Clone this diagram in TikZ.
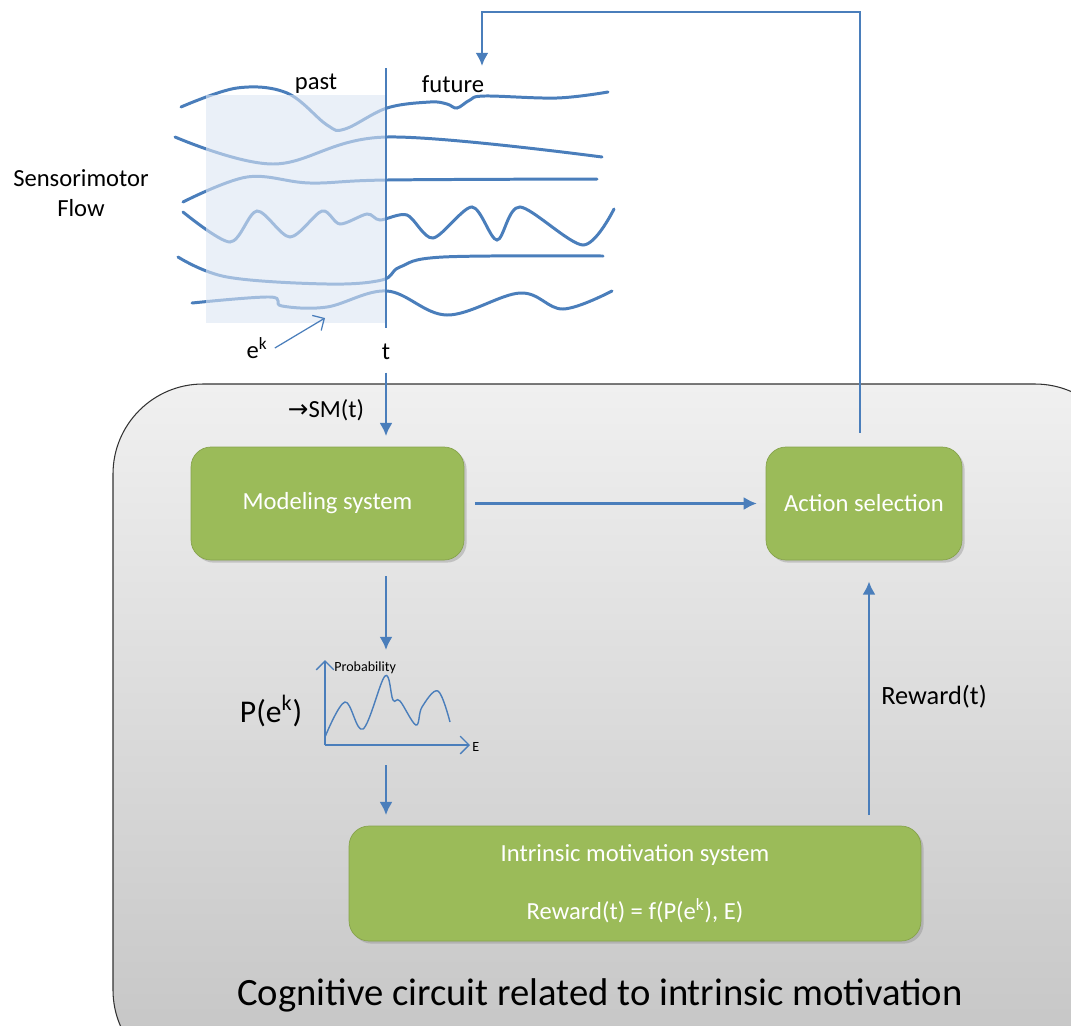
\documentclass[tikz,border=0pt]{standalone}
\usepackage{fontspec}
\setmainfont{Carlito}
\newfontfamily\arrowfont{DejaVu Sans}
\usetikzlibrary{arrows.meta,shadows}
\definecolor{flowblue}{HTML}{4A7EBB}
\definecolor{boxgreen}{HTML}{9BBB59}
\definecolor{boxedge}{HTML}{86A34C}
\definecolor{pastfill}{HTML}{DCE6F4}
\definecolor{circtop}{HTML}{F0F0F0}
\definecolor{circbot}{HTML}{C4C4C4}
\tikzset{
  sysbox/.style={draw=boxedge, fill=boxgreen, rounded corners=0.4cm, text=white,
    font=\fontsize{14}{17}\selectfont,
    drop shadow={shadow xshift=1.5pt, shadow yshift=-1.5pt, opacity=0.35}},
  flowarrow/.style={flowblue, line width=1.5pt, -{Latex[length=7.5pt,width=7.5pt]}},
  signal/.style={flowblue, line width=1.7pt, line cap=round},
  lbl/.style={font=\fontsize{14}{17}\selectfont, inner sep=0pt}
}
\begin{document}
\begin{tikzpicture}[x=0.02cm, y=-0.02cm]
  % canvas = reference pixels, y downwards
  \useasboundingbox (0,0) rectangle (1071,1025);

  % cognitive circuit background (cut by the page edge)
  \begin{scope}
    \clip (0,0) rectangle (1071,1025);
    \shadedraw[top color=circtop, bottom color=circbot, draw=black!80, line width=0.6pt,
      rounded corners=1.8cm] (113,384) rectangle (1125,1080);
  \end{scope}
  \node[font=\fontsize{22}{26}\selectfont, inner sep=0pt] (title) at (600,995)
    {Cognitive circuit related to intrinsic motivation};

  % sensorimotor flow: six signals
  \draw[signal] plot[smooth, tension=0.6] coordinates {(181,107) (237,88) (287,93) (327,125)
    (345,129) (387,108) (430,102) (447,104) (457,108) (470,100) (485,96) (557,98) (608,92)};
  \draw[signal] plot[smooth, tension=0.6] coordinates {(175,137) (273,164) (387,137) (602,157)};
  \draw[signal] plot[smooth, tension=0.6] coordinates {(183,202) (247,177) (310,183) (387,180) (597,179)};
  \draw[signal] plot[smooth, tension=0.5] coordinates {(183,212) (230,242) (257,211) (290,237)
    (322,211) (340,224) (367,214) (380,220) (407,215) (433,238) (472,207) (497,240)
    (520,207) (583,245) (614,209)};
  \draw[signal] plot[smooth, tension=0.6] coordinates {(178,257) (227,277) (327,284) (382,280)
    (400,267) (443,257) (603,256)};
  \draw[signal] plot[smooth, tension=0.6] coordinates {(192,303) (270,297) (282,306) (327,307)
    (387,291) (447,315) (520,293) (563,309) (612,291)};

  % past window, lightens the signals under it
  \fill[pastfill, opacity=0.6] (206,95) rectangle (386,323);
  \draw[flowblue, line width=0.9pt] (386,68) coordinate (ttop) -- (386,328) coordinate (tbot);

  \node[lbl] (past) at (316,84) {past};
  \node[lbl] (future) at (453,84) {future};
  \node[lbl, align=center] (smflow) at (81,193) {Sensorimotor\\Flow};
  \node[lbl] (t) at (386,352) {t};
  \node[lbl] (ek) at (257,348) {e\textsuperscript{k}};
  \coordinate (ektip) at (325,318);
  \draw[flowblue, line width=0.7pt, -{Straight Barb[length=5pt]}] ([xshift=4pt]ek.east) -- (ektip);

  % system boxes
  \node[sysbox, minimum width=5.46cm, minimum height=2.26cm] (model) at (327.5,503.5) {Modeling system};
  \node[sysbox, minimum width=3.92cm, minimum height=2.26cm] (action) at (864,503.5) {Action selection};
  \node[sysbox, minimum width=11.44cm, minimum height=2.3cm, align=center] (intrinsic) at (635,883.5)
    {Intrinsic motivation system\\[16pt]Reward(t) = f(P(e\textsuperscript{k}), E)};

  \node[lbl] (sm) at (326,410) {{\arrowfont\fontsize{14}{17}\selectfont →}SM(t)};
  \node[font=\fontsize{18}{22}\selectfont, inner sep=0pt] (pek) at (271,711) {P(e\textsuperscript{k})};
  \node[font=\fontsize{15}{18}\selectfont, inner sep=0pt] (reward) at (934,697) {Reward(t)};

  % probability plot
  \coordinate (origin) at (325,745);
  \draw[flowblue, line width=0.8pt, -{Straight Barb[length=5pt]}] (origin) -- (325,660);
  \draw[flowblue, line width=0.8pt, -{Straight Barb[length=5pt]}] (origin) -- (470,745);
  \draw[flowblue, line width=0.8pt] plot[smooth, tension=0.6] coordinates {(325,737) (345,702)
    (363,729) (385,676) (393,700) (400,701) (416,725) (422,707) (438,691) (450,722)};
  \node[font=\fontsize{8}{10}\selectfont, anchor=west, inner sep=0pt] (prob) at (334,668) {Probability};
  \node[font=\fontsize{8}{10}\selectfont, anchor=west, inner sep=0pt] (eaxis) at (472,747) {E};

  % connectors
  \draw[flowarrow, shorten <=7pt, shorten >=6pt] (t.south) -- (t.south |- model.north);
  \draw[flowarrow, shorten <=6pt, shorten >=5pt] (model.east) -- (action.west);
  \draw[flowarrow, shorten <=9pt] (t |- model.south) -- (386,650);
  \draw[flowarrow, shorten >=6pt] (386,765) -- (386,765 |- intrinsic.north);
  \draw[flowarrow, shorten <=6pt, shorten >=12pt] (869,0 |- intrinsic.north) -- (869,0 |- action.south);
  \draw[flowarrow, shorten <=8pt] (860,0 |- action.north) -- (860,12) -- (482,12) -- (482,66);
\end{tikzpicture}
\end{document}
